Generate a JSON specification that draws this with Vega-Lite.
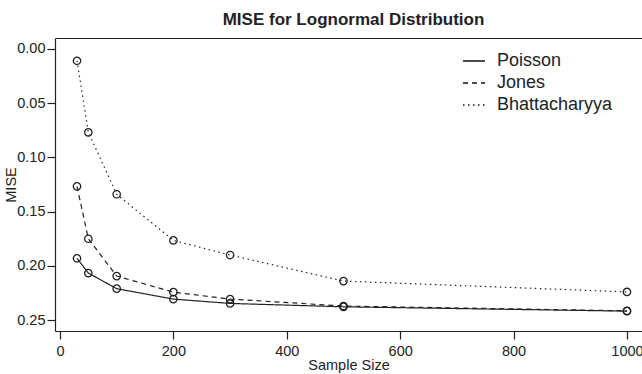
{
  "$schema": "https://vega.github.io/schema/vega-lite/v6.json",
  "width": 587,
  "height": 293,
  "autosize": {"type": "none"},
  "padding": {"left": 55, "top": 38, "right": 0, "bottom": 43},
  "background": "white",
  "config": {
    "font": "Liberation Sans",
    "view": {"stroke": null},
    "axis": {"grid": false, "domainColor": "#222", "tickColor": "#222", "labelColor": "#222", "titleColor": "#222", "domainWidth": 1.2, "tickWidth": 1.2, "titleFontWeight": "normal"}
  },
  "title": {"text": "MISE for Lognormal Distribution", "fontSize": 17, "fontWeight": "bold", "color": "#222", "offset": 9, "dx": 5},
  "data": {"values": [
    {"n": 30, "method": "Poisson", "mise": 0.193},
    {"n": 50, "method": "Poisson", "mise": 0.2066},
    {"n": 100, "method": "Poisson", "mise": 0.221},
    {"n": 200, "method": "Poisson", "mise": 0.2306},
    {"n": 300, "method": "Poisson", "mise": 0.2346},
    {"n": 500, "method": "Poisson", "mise": 0.2377},
    {"n": 1000, "method": "Poisson", "mise": 0.2417},
    {"n": 30, "method": "Jones", "mise": 0.1267},
    {"n": 50, "method": "Jones", "mise": 0.175},
    {"n": 100, "method": "Jones", "mise": 0.2094},
    {"n": 200, "method": "Jones", "mise": 0.2242},
    {"n": 300, "method": "Jones", "mise": 0.2306},
    {"n": 500, "method": "Jones", "mise": 0.237},
    {"n": 1000, "method": "Jones", "mise": 0.2414},
    {"n": 30, "method": "Bhattacharyya", "mise": 0.011},
    {"n": 50, "method": "Bhattacharyya", "mise": 0.0769},
    {"n": 100, "method": "Bhattacharyya", "mise": 0.134},
    {"n": 200, "method": "Bhattacharyya", "mise": 0.1765},
    {"n": 300, "method": "Bhattacharyya", "mise": 0.190},
    {"n": 500, "method": "Bhattacharyya", "mise": 0.214},
    {"n": 1000, "method": "Bhattacharyya", "mise": 0.224}
  ]},
  "layer": [
    {
      "mark": {"type": "line", "color": "#222", "strokeWidth": 1.2},
      "encoding": {
        "x": {"field": "n", "type": "quantitative", "scale": {"domain": [-8.8, 1026.5], "nice": false, "zero": false},
              "axis": {"orient": "bottom", "values": [0, 200, 400, 600, 800, 1000], "format": "d", "title": "Sample Size", "labelFontSize": 14.5, "titleFontSize": 14.5, "tickSize": 8, "labelPadding": 5, "titlePadding": 1, "labelFlush": false}},
        "y": {"field": "mise", "type": "quantitative", "scale": {"domain": [-0.01, 0.26], "reverse": true, "nice": false, "zero": false},
              "axis": {"values": [0, 0.05, 0.1, 0.15, 0.2, 0.25], "format": ".2f", "title": "MISE", "labelFontSize": 14.5, "titleFontSize": 14.5, "tickSize": 8, "labelPadding": 2, "titlePadding": -2}},
        "strokeDash": {"field": "method", "type": "nominal",
          "scale": {"domain": ["Poisson", "Jones", "Bhattacharyya"], "range": [[1, 0], [5, 4], [1.5, 3.5]]},
          "legend": {"title": null, "orient": "none", "legendX": 407, "legendY": 11, "labelFontSize": 18, "labelColor": "#222", "symbolType": "stroke", "symbolSize": 484, "symbolStrokeWidth": 1.3, "symbolStrokeColor": "#111", "labelOffset": 11, "rowPadding": 1}},
        "order": {"field": "n", "type": "quantitative"}
      }
    },
    {
      "mark": {"type": "point", "shape": "circle", "filled": false, "color": "#222", "size": 55, "strokeWidth": 1.3, "opacity": 1},
      "encoding": {
        "x": {"field": "n", "type": "quantitative", "axis": {"orient": "top", "labels": false, "ticks": false, "title": null, "domain": true}},
        "y": {"field": "mise", "type": "quantitative"}
      }
    }
  ],
  "resolve": {"axis": {"x": "independent"}}
}
